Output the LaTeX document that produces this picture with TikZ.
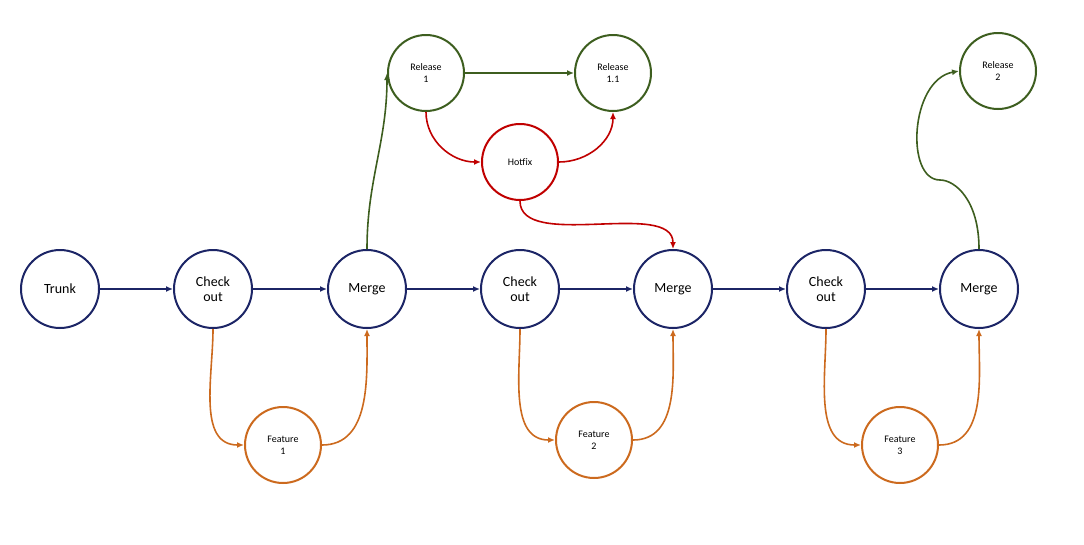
\documentclass[tikz,border=0pt]{standalone}
\usepackage{fontspec}
\setmainfont{Carlito}
\usetikzlibrary{arrows.meta}
\definecolor{navy}{HTML}{1C2566}
\definecolor{orng}{HTML}{CC6A1E}
\definecolor{grn}{HTML}{3D5E1F}
\definecolor{rd}{HTML}{C00000}
\begin{document}
\begin{tikzpicture}[x=1pt,y=-1pt,
  big/.style={circle,draw=navy,line width=2pt,minimum size=78pt,inner sep=0pt,align=center,font=\fontsize{14}{15}\selectfont},
  sm/.style={circle,line width=2pt,minimum size=76pt,inner sep=0pt,align=center,font=\fontsize{10}{12}\selectfont},
  feat/.style={sm,draw=orng},
  rel/.style={sm,draw=grn},
  hot/.style={sm,draw=rd},
  conn/.style={line width=1.6pt,-{Latex[length=7pt,width=6pt]}},
  nv/.style={conn,navy}, og/.style={conn,orng}, gr/.style={conn,grn}, rr/.style={conn,rd}]
\useasboundingbox (0,0) rectangle (1084,544);
\node[big] (t) at (60,289) {Trunk};
\node[big] (c1) at (213,289) {Check\\out};
\node[big] (m1) at (367,289) {Merge};
\node[big] (c2) at (520,289) {Check\\out};
\node[big] (m2) at (673,289) {Merge};
\node[big] (c3) at (826,289) {Check\\out};
\node[big] (m3) at (979,289) {Merge};
\node[feat] (f1) at (283,445) {Feature\\1};
\node[feat] (f2) at (594,440) {Feature\\2};
\node[feat] (f3) at (900,445) {Feature\\3};
\node[rel] (r1) at (426,73) {Release\\1};
\node[rel] (r11) at (613,73) {Release\\1.1};
\node[rel] (r2) at (998,71) {Release\\2};
\node[hot] (h) at (520,162) {Hotfix};
\draw[nv] (t) -- (c1);
\draw[nv] (c1) -- (m1);
\draw[nv] (m1) -- (c2);
\draw[nv] (c2) -- (m2);
\draw[nv] (m2) -- (c3);
\draw[nv] (c3) -- (m3);
\draw[og] (c1.south) to[out=-90,in=180] (f1.west);
\draw[og] (f1.east) to[out=0,in=-90] (m1.south);
\draw[og] (c2.south) to[out=-90,in=180] (f2.west);
\draw[og] (f2.east) to[out=0,in=-90] (m2.south);
\draw[og] (c3.south) to[out=-90,in=180] (f3.west);
\draw[og] (f3.east) to[out=0,in=-90] (m3.south);
\draw[gr] (m1.north) to[out=90,in=-90] (r1.west);
\draw[gr] (r1) -- (r11);
\draw[rr] (r1.south) to[out=-90,in=180] (h.west);
\draw[rr] (h.east) to[out=0,in=-90] (r11.south);
\draw[rr] (h.south) to[out=-90,in=90,looseness=0.8] (m2.north);
\draw[gr] (m3.north) .. controls (979,200) and (955,180) .. (940,180)
  .. controls (905,180) and (910,80) .. (r2.west);
\end{tikzpicture}
\end{document}
